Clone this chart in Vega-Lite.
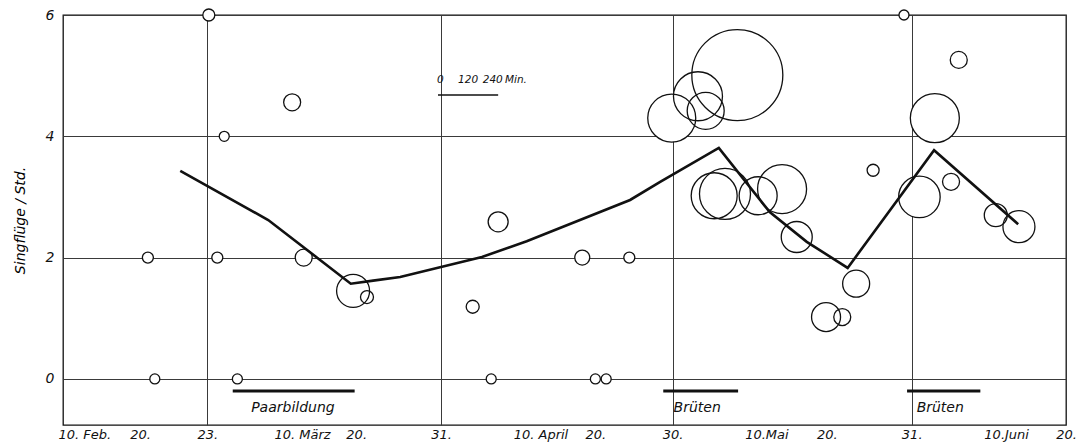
{
  "$schema": "https://vega.github.io/schema/vega-lite/v6.json",
  "width": 1003,
  "height": 410,
  "autosize": {"type": "none"},
  "padding": {"left": 63, "top": 15, "right": 14, "bottom": 20},
  "background": "white",
  "config": {
    "view": {"stroke": "#111", "strokeWidth": 1.3},
    "font": "DejaVu Sans",
    "axis": {
      "labelFont": "DejaVu Sans",
      "labelFontStyle": "italic",
      "labelColor": "#111",
      "titleFont": "DejaVu Sans",
      "titleFontStyle": "italic",
      "titleFontWeight": "normal",
      "titleColor": "#111",
      "domain": false,
      "ticks": false
    }
  },
  "datasets": {
    "beobachtungen": [
      {"tag": 11.0, "wert": 2.0, "min": 44},
      {"tag": 11.9, "wert": 0, "min": 40},
      {"tag": 18.9, "wert": 6.0, "min": 48},
      {"tag": 20.0, "wert": 2.0, "min": 44},
      {"tag": 20.9, "wert": 4.0, "min": 40},
      {"tag": 22.6, "wert": 0, "min": 40},
      {"tag": 29.7, "wert": 4.56, "min": 68},
      {"tag": 31.2, "wert": 2.0, "min": 68},
      {"tag": 37.6, "wert": 1.45, "min": 132},
      {"tag": 39.4, "wert": 1.35, "min": 52},
      {"tag": 53.1, "wert": 1.19, "min": 52},
      {"tag": 56.4, "wert": 2.59, "min": 80},
      {"tag": 55.5, "wert": 0, "min": 40},
      {"tag": 67.3, "wert": 2.0, "min": 60},
      {"tag": 73.4, "wert": 2.0, "min": 44},
      {"tag": 69.0, "wert": 0, "min": 40},
      {"tag": 70.4, "wert": 0, "min": 40},
      {"tag": 87.4, "wert": 5.01, "min": 364},
      {"tag": 78.9, "wert": 4.30, "min": 192},
      {"tag": 82.3, "wert": 4.66, "min": 196},
      {"tag": 83.3, "wert": 4.42, "min": 148},
      {"tag": 84.4, "wert": 3.02, "min": 184},
      {"tag": 85.8, "wert": 3.05, "min": 204},
      {"tag": 90.1, "wert": 3.02, "min": 152},
      {"tag": 93.2, "wert": 3.13, "min": 196},
      {"tag": 95.1, "wert": 2.34, "min": 124},
      {"tag": 102.8, "wert": 1.57, "min": 108},
      {"tag": 98.9, "wert": 1.02, "min": 116},
      {"tag": 101.0, "wert": 1.02, "min": 68},
      {"tag": 105.0, "wert": 3.44, "min": 48},
      {"tag": 111.0, "wert": 3.0, "min": 166},
      {"tag": 109.0, "wert": 6.0, "min": 40},
      {"tag": 116.1, "wert": 5.26, "min": 68},
      {"tag": 113.0, "wert": 4.30, "min": 196},
      {"tag": 115.1, "wert": 3.25, "min": 68},
      {"tag": 120.9, "wert": 2.70, "min": 92},
      {"tag": 123.9, "wert": 2.51, "min": 128}
    ],
    "mittel": [
      {"tag": 15.2, "wert": 3.43},
      {"tag": 26.6, "wert": 2.62},
      {"tag": 37.3, "wert": 1.57},
      {"tag": 40.2, "wert": 1.62},
      {"tag": 43.7, "wert": 1.68},
      {"tag": 54.3, "wert": 2.01},
      {"tag": 60.1, "wert": 2.27},
      {"tag": 73.5, "wert": 2.95},
      {"tag": 77.4, "wert": 3.25},
      {"tag": 85.0, "wert": 3.81},
      {"tag": 91.6, "wert": 2.75},
      {"tag": 96.4, "wert": 2.26},
      {"tag": 101.7, "wert": 1.83},
      {"tag": 112.9, "wert": 3.77},
      {"tag": 123.8, "wert": 2.55}
    ],
    "balken": [
      {"art": "phase", "von": 22.0, "bis": 37.8, "wert": -0.2},
      {"art": "phase", "von": 77.8, "bis": 87.5, "wert": -0.2},
      {"art": "phase", "von": 109.4, "bis": 118.9, "wert": -0.2},
      {"art": "massstab", "von": 48.6, "bis": 56.4, "wert": 4.68}
    ],
    "beschriftung": [
      {"art": "phase", "tag": 29.8, "wert": -0.48, "text": "Paarbildung"},
      {"art": "phase", "tag": 82.2, "wert": -0.48, "text": "Brüten"},
      {"art": "phase", "tag": 113.7, "wert": -0.48, "text": "Brüten"},
      {"art": "massstab", "tag": 48.9, "wert": 4.93, "text": "0"},
      {"art": "massstab", "tag": 52.5, "wert": 4.93, "text": "120"},
      {"art": "massstab", "tag": 55.7, "wert": 4.93, "text": "240"},
      {"art": "massstab", "tag": 58.7, "wert": 4.93, "text": "Min."}
    ]
  },
  "layer": [
    {
      "data": {"name": "beobachtungen"},
      "mark": {"type": "point", "shape": "circle", "filled": true, "fill": "white", "strokeWidth": 0, "opacity": 1},
      "encoding": {
        "x": {
          "field": "tag",
          "type": "quantitative",
          "scale": {"domain": [0, 130], "nice": false, "zero": false},
          "axis": {
            "title": null,
            "values": [0, 10, 18.7, 28, 38, 49, 59, 69, 79, 89, 99, 110, 120, 130],
            "labelExpr": "['10. Feb.', '20.', '23.', '10. März', '20.', '31.', '10. April', '20.', '30.', '10.Mai', '20.', '31.', '10.Juni', '20.'][indexof([0, 10, 18.7, 28, 38, 49, 59, 69, 79, 89, 99, 110, 120, 130], datum.value)]",
            "labelFontSize": 13,
            "labelPadding": 3,
            "labelFlush": false,
            "labelOverlap": false,
            "labelAlign": {"condition": {"test": "indexof([0, 28, 59, 89, 120], datum.value) >= 0", "value": "left"}, "value": "center"},
            "labelOffset": {"condition": {"test": "indexof([0, 28, 59, 89, 120], datum.value) >= 0", "value": -5}, "value": 0},
            "grid": true,
            "gridColor": "#3a3a3a",
            "gridWidth": 1,
            "gridOpacity": {"condition": {"test": "indexof([18.7, 49, 79, 110], datum.value) >= 0", "value": 1}, "value": 0}
          }
        },
        "y": {
          "field": "wert",
          "type": "quantitative",
          "scale": {"domain": [-0.76, 6], "nice": false, "zero": false},
          "axis": {
            "title": "Singflüge / Std.",
            "titleColor": "black",
            "values": [0, 2, 4, 6],
            "format": "d",
            "labelFontSize": 14,
            "labelPadding": 9,
            "titleFontSize": 14,
            "titlePadding": 18,
            "grid": true,
            "gridColor": "#3a3a3a",
            "gridWidth": 1
          }
        },
        "size": {
          "field": "min",
          "type": "quantitative",
          "scale": {"type": "pow", "exponent": 2, "domain": [0, 240], "range": [0, 3600]},
          "legend": null
        }
      }
    },
    {
      "data": {"name": "mittel"},
      "mark": {"type": "line", "color": "#111", "strokeWidth": 2.6},
      "encoding": {
        "x": {"field": "tag", "type": "quantitative"},
        "y": {"field": "wert", "type": "quantitative"}
      }
    },
    {
      "data": {"name": "beobachtungen"},
      "mark": {"type": "point", "shape": "circle", "filled": false, "stroke": "#111", "strokeWidth": 1.3, "opacity": 1},
      "encoding": {
        "x": {"field": "tag", "type": "quantitative"},
        "y": {"field": "wert", "type": "quantitative"},
        "size": {"field": "min", "type": "quantitative", "legend": null}
      }
    },
    {
      "data": {"name": "balken"},
      "transform": [{"filter": "datum.art === 'phase'"}],
      "mark": {"type": "rule", "color": "#111", "strokeWidth": 3},
      "encoding": {
        "x": {"field": "von", "type": "quantitative"},
        "x2": {"field": "bis"},
        "y": {"field": "wert", "type": "quantitative"}
      }
    },
    {
      "data": {"name": "balken"},
      "transform": [{"filter": "datum.art === 'massstab'"}],
      "mark": {"type": "rule", "color": "#111", "strokeWidth": 1.4},
      "encoding": {
        "x": {"field": "von", "type": "quantitative"},
        "x2": {"field": "bis"},
        "y": {"field": "wert", "type": "quantitative"}
      }
    },
    {
      "data": {"name": "beschriftung"},
      "transform": [{"filter": "datum.art === 'phase'"}],
      "mark": {"type": "text", "font": "DejaVu Sans", "fontStyle": "italic", "fontSize": 14, "color": "#111", "align": "center", "baseline": "middle"},
      "encoding": {
        "x": {"field": "tag", "type": "quantitative"},
        "y": {"field": "wert", "type": "quantitative"},
        "text": {"field": "text"}
      }
    },
    {
      "data": {"name": "beschriftung"},
      "transform": [{"filter": "datum.art === 'massstab'"}],
      "mark": {"type": "text", "font": "DejaVu Sans", "fontStyle": "italic", "fontSize": 10.5, "color": "#111", "align": "center", "baseline": "middle"},
      "encoding": {
        "x": {"field": "tag", "type": "quantitative"},
        "y": {"field": "wert", "type": "quantitative"},
        "text": {"field": "text"}
      }
    }
  ]
}
